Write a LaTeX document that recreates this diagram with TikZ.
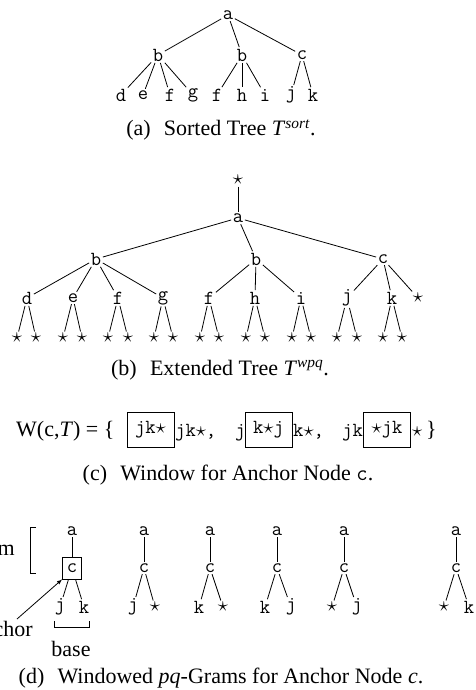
\documentclass[tikz,border=0pt]{standalone}
\usepackage{fontspec}
\setmainfont{Liberation Serif}
\begin{document}
\begin{tikzpicture}[x=1pt,y=-1pt,
  tt/.style={font=\ttfamily\fontsize{20}{22}\selectfont, inner sep=1.5pt},
  st/.style={font=\fontsize{20}{22}\selectfont, inner sep=1.5pt},
  captxt/.style={font=\fontsize{22}{26}\selectfont, inner sep=0pt},
  eq/.style={font=\fontsize{22}{26}\selectfont, inner sep=0pt},
  winbox/.style={draw, line width=0.8pt, font=\ttfamily\fontsize{20}{22}\selectfont,
    minimum width=47, minimum height=35, inner sep=0pt},
  edge/.style={line width=0.8pt}]
\useasboundingbox (0,0) rectangle (475,690);

% ---------- (a) sorted tree ----------
\node[tt] (aa) at (228,15) {a};
\node[tt] (ab1) at (158,55) {b};
\node[tt] (ab2) at (242,55) {b};
\node[tt] (ac) at (302,55) {c};
\node[tt] (ad) at (121,95) {d};
\node[tt] (ae) at (143,95) {e};
\node[tt] (af1) at (170,95) {f};
\node[tt] (ag) at (193,95) {g};
\node[tt] (af2) at (217,95) {f};
\node[tt] (ah) at (242,95) {h};
\node[tt] (ai) at (265,95) {i};
\node[tt] (aj) at (291,95) {j};
\node[tt] (ak) at (313,95) {k};
\foreach \p/\c in {aa/ab1,aa/ab2,aa/ac,ab1/ad,ab1/ae,ab1/af1,ab1/ag,
                   ab2/af2,ab2/ah,ab2/ai,ac/aj,ac/ak}
  \draw[edge] (\p) -- (\c);
\node[captxt] (capa) at (221,130) {(a)\hspace{0.6em}Sorted Tree \textit{T}\textsuperscript{\textit{sort}}.};

% ---------- (b) extended tree ----------
\node[st] (bs) at (238,180) {$\star$};
\node[tt] (ba) at (238,218) {a};
\node[tt] (bb1) at (96,259) {b};
\node[tt] (bb2) at (256,259) {b};
\node[tt] (bc) at (383,259) {c};
\foreach \n/\t/\x in {bd/d/27,be/e/73,bf1/f/118,bg/g/163,bf2/f/209,bh/h/255,bi/i/301,bj/j/347,bk/k/392}
  \node[tt] (\n) at (\x,298) {\t};
\node[st] (bks) at (418,298) {$\star$};
\foreach \p/\c in {bs/ba,ba/bb1,ba/bb2,ba/bc,bb1/bd,bb1/be,bb1/bf1,bb1/bg,
                   bb2/bf2,bb2/bh,bb2/bi,bc/bj,bc/bk,bc/bks}
  \draw[edge] (\p) -- (\c);
% star children of every leaf
\foreach \n/\l/\r in {bd/17/36,be/63/82,bf1/108/128,bg/154/173,bf2/200/219,
                      bh/246/265,bi/292/311,bj/337/357,bk/383/402}{
  \node[st] (\n-l) at (\l,338) {$\star$};
  \node[st] (\n-r) at (\r,338) {$\star$};
  \draw[edge] (\n) -- (\n-l);
  \draw[edge] (\n) -- (\n-r);
}
\node[captxt] (capb) at (220,370) {(b)\hspace{0.6em}Extended Tree \textit{T}\textsuperscript{\textit{wpq}}.};

% ---------- (c) window ----------
\node[eq, anchor=base west] (weq) at (16,436) {W(c,\textit{T}) = \{};
\node[winbox] (w1) at (150.5,429.5) {jk$\star$};
\node[tt, inner sep=0pt, anchor=base west] (r1) at (175,436) {jk$\star$,};
\node[tt, inner sep=0pt, anchor=base west] (l2) at (235,436) {j};
\node[winbox] (w2) at (268.5,429.5) {k$\star$j};
\node[tt, inner sep=0pt, anchor=base west] (r2) at (293,436) {k$\star$,};
\node[tt, inner sep=0pt, anchor=base west] (l3) at (342,436) {jk};
\node[winbox] (w3) at (387,429.5) {$\star$jk};
\node[tt, inner sep=0pt, anchor=base west] (r3) at (412,436) {$\star$};
\node[eq, anchor=base west] (wcl) at (426,436) {\}};
\node[captxt] (capc) at (228,475) {(c)\hspace{0.6em}Window for Anchor Node \texttt{c}.};

% ---------- (d) windowed pq-grams ----------
\node[tt] (d1a) at (72,531) {a};
\node[tt, draw, line width=0.8pt, minimum width=19, minimum height=22, inner sep=0pt] (d1c) at (72,568) {c};
\node[tt] (d1l) at (60,607) {j};
\node[tt] (d1r) at (84,607) {k};
\draw[edge] (d1a) -- (d1c);
\draw[edge] (d1c) -- (d1l);
\draw[edge] (d1c) -- (d1r);

\foreach \i/\x/\l/\lx/\r/\rx in {2/144/j/133/{$\star$}/155, 3/210/k/199/{$\star$}/223,
        4/277/k/265/j/291, 5/344/{$\star$}/332/j/357, 6/456/{$\star$}/444/k/469}{
  \node[tt] (d\i a) at (\x,531) {a};
  \node[tt] (d\i c) at (\x,568) {c};
  \node[tt] (d\i l) at (\lx,607) {\l};
  \node[tt] (d\i r) at (\rx,607) {\r};
  \draw[edge] (d\i a) -- (d\i c);
  \draw[edge] (d\i c) -- (d\i l);
  \draw[edge] (d\i c) -- (d\i r);
}

% stem bracket
\node[captxt, anchor=east] (stem) at (15,549) {stem};
\draw[edge] (36,527) -- (30,527) -- (30,573) -- (36,573);
% anchor arrow
\node[captxt, anchor=east] (anc) at (33,629) {anchor};
\coordinate (ancs) at (17,619);
\draw[edge, -latex] (ancs) -- (d1c.south west);
% base bracket
\draw[edge] (54,621) -- (54,627) -- (89,627) -- (89,621);
\node[captxt] (base) at (71,649) {base};

\node[captxt] (capd) at (221,678) {(d)\hspace{0.6em}Windowed \textit{pq}-Grams for Anchor Node \textit{c}.};
\end{tikzpicture}
\end{document}
